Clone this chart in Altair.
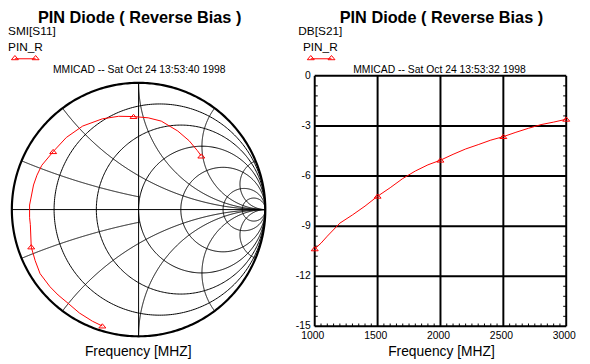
import altair as alt
import numpy as np
import pandas as pd

FONT = "Liberation Sans"

# ---------------- data ----------------
# S11 trace on the Smith chart (reflection coefficient), 1000 -> 3000 MHz
s11_re = [-0.286, -0.364, -0.467, -0.557, -0.635, -0.699, -0.777, -0.816, -0.847,
          -0.854, -0.860, -0.860, -0.849, -0.829, -0.802, -0.764, -0.674, -0.570,
          -0.441, -0.286, -0.157, -0.040, 0.076, 0.179, 0.309, 0.399, 0.464, 0.495]
s11_im = [-0.919, -0.881, -0.816, -0.739, -0.674, -0.609, -0.506, -0.403, -0.295,
          -0.119, -0.064, 0.036, 0.091, 0.194, 0.271, 0.349, 0.457, 0.569,
          0.659, 0.716, 0.736, 0.734, 0.724, 0.698, 0.620, 0.543, 0.465, 0.422]
s11_marker_idx = [0, 8, 16, 21, 27]          # 1000, 1500, 2000, 2500, 3000 MHz

# S21 in dB
s21_freq = [1000, 1050, 1100, 1200, 1300, 1400, 1500, 1600, 1700, 1800, 1900, 2000,
            2100, 2200, 2300, 2400, 2500, 2600, 2700, 2800, 2900, 3000]
s21_db = [-10.36, -10.02, -9.60, -8.82, -8.33, -7.80, -7.21, -6.70, -6.15, -5.70, -5.33,
          -5.05, -4.70, -4.38, -4.12, -3.85, -3.64, -3.38, -3.14, -2.92, -2.77, -2.60]
s21_marker_freq = [1000, 1500, 2000, 2500, 3000]

# axis ticks / labels of the rectangular plot
x_major = [1000, 1500, 2000, 2500, 3000]
x_labels = ["1000", "1500", "2000", "2500", "3000"]
y_major = [0, -3, -6, -9, -12, -15]
y_labels = ["0", "-3", "-6", "-9", "-12", "-15"]

# Smith chart grid values
smith_r = [0.2, 0.5, 1, 2, 5, 10]
smith_x = [0.2, 0.5, 1, 2, 5]

title_text = "PIN Diode ( Reverse Bias )"
left_meas = "SMI[S11]"
right_meas = "DB[S21]"
legend_name = "PIN_R"
left_stamp = "MMICAD -- Sat Oct 24 13:53:40 1998"
right_stamp = "MMICAD -- Sat Oct 24 13:53:32 1998"
x_title = "Frequency [MHZ]"

# ---------------- geometry (chart pixel space) ----------------
W, H = 582, 356
SM_CX, SM_CY, SM_R = 132.4, 201.9, 128.5
RX0, RX1, RY0, RY1 = 311, 566, 320.3, 66.3

gx = alt.Scale(domain=[-1, 1], range=[SM_CX - SM_R, SM_CX + SM_R], nice=False, zero=False)
gy = alt.Scale(domain=[-1, 1], range=[SM_CY + SM_R, SM_CY - SM_R], nice=False, zero=False)
fx = alt.Scale(domain=[1000, 3000], range=[RX0, RX1], nice=False, zero=False)
fy = alt.Scale(domain=[-15, 0], range=[RY0, RY1], nice=False, zero=False)

RED = "#ff0000"
TRI = "M-1,0.55L1,0.55L0,-0.65Z"
TRI_SIZE = 50

# ---------------- Smith chart ----------------
rows = []


def add_curve(cid, re_arr, im_arr):
    for k, (a, b) in enumerate(zip(re_arr, im_arr)):
        rows.append({"id": cid, "k": k, "re": float(a), "im": float(b)})


th = np.linspace(0, 2 * np.pi, 361)
for r in smith_r:
    c = r / (1 + r)
    rad = 1 / (1 + r)
    add_curve(f"r{r}", c + rad * np.cos(th), rad * np.sin(th))
for xv in smith_x:
    tmax = 0.5 if xv < 0.3 else 0.9995
    t = np.linspace(0, tmax, 400)
    rr = t / (1 - t)
    for s in (1, -1):
        z = rr + 1j * s * xv
        g = (z - 1) / (z + 1)
        add_curve(f"x{s * xv}", g.real, g.imag)
add_curve("h", [-1, 1], [0, 0])
add_curve("v", [0, 0], [-1, 1])
grid_df = pd.DataFrame(rows)
outer_df = pd.DataFrame({"k": range(len(th)), "re": np.cos(th), "im": np.sin(th)})

enc_s = dict(x=alt.X("re:Q", scale=gx, axis=None), y=alt.Y("im:Q", scale=gy, axis=None))

grid = alt.Chart(grid_df).mark_line(color="black", strokeWidth=1).encode(
    detail="id:N", order="k:Q", **enc_s)
outer = alt.Chart(outer_df).mark_line(color="black", strokeWidth=2.2).encode(order="k:Q", **enc_s)

s11_df = pd.DataFrame({"k": range(len(s11_re)), "re": s11_re, "im": s11_im})
s11_line = alt.Chart(s11_df).mark_line(color=RED, strokeWidth=1).encode(order="k:Q", **enc_s)
s11_mk = alt.Chart(s11_df.iloc[s11_marker_idx]).mark_point(
    shape=TRI, size=TRI_SIZE, color=RED, strokeWidth=1, filled=False, opacity=1).encode(**enc_s)

smith = alt.layer(grid, outer, s11_line, s11_mk)

# ---------------- rectangular plot ----------------
vert_df = pd.DataFrame({"f": x_major})
horiz_df = pd.DataFrame({"v": y_major})

vlines = alt.Chart(vert_df).mark_rule(color="black", strokeWidth=2).encode(
    x=alt.X("f:Q", scale=fx, axis=None),
    y=alt.Y(datum=-15, scale=fy, axis=None), y2=alt.Y2(datum=0))
hlines = alt.Chart(horiz_df).mark_rule(color="black", strokeWidth=2).encode(
    y=alt.Y("v:Q", scale=fy, axis=None),
    x=alt.X(datum=1000, scale=fx, axis=None), x2=alt.X2(datum=3000))

y_minor = [v for v in np.round(np.arange(-15, 0.01, 0.6), 2) if abs(v / 3 - round(v / 3)) > 1e-6]
x_minor = [v for v in range(1000, 3001, 50) if v % 500 != 0]
ym_df = pd.DataFrame({"v": y_minor})
xm_df = pd.DataFrame({"f": x_minor})

lt = alt.Chart(ym_df).mark_rule(color="black", strokeWidth=1).encode(
    y=alt.Y("v:Q", scale=fy, axis=None),
    x=alt.X(datum=1000, scale=fx, axis=None), x2=alt.X2(datum=1024))
rt = alt.Chart(ym_df).mark_rule(color="black", strokeWidth=1).encode(
    y=alt.Y("v:Q", scale=fy, axis=None),
    x=alt.X(datum=2976, scale=fx, axis=None), x2=alt.X2(datum=3000))
bt = alt.Chart(xm_df).mark_rule(color="black", strokeWidth=1).encode(
    x=alt.X("f:Q", scale=fx, axis=None),
    y=alt.Y(datum=-15, scale=fy, axis=None), y2=alt.Y2(datum=-14.83))

s21_df = pd.DataFrame({"f": s21_freq, "db": s21_db})
enc_r = dict(x=alt.X("f:Q", scale=fx, axis=None), y=alt.Y("db:Q", scale=fy, axis=None))
s21_line = alt.Chart(s21_df).mark_line(color=RED, strokeWidth=1).encode(**enc_r)
s21_mk = alt.Chart(s21_df[s21_df["f"].isin(s21_marker_freq)]).mark_point(
    shape=TRI, size=TRI_SIZE, color=RED, strokeWidth=1, filled=False, opacity=1).encode(**enc_r)

ylab = alt.Chart(pd.DataFrame({"v": y_major, "t": y_labels})).mark_text(
    align="right", baseline="middle", font=FONT, fontSize=10.5, color="black").encode(
    y=alt.Y("v:Q", scale=fy, axis=None), x=alt.value(307), text="t:N")
xlab = alt.Chart(pd.DataFrame({"f": x_major, "t": x_labels})).mark_text(
    align="center", baseline="alphabetic", font=FONT, fontSize=10.5, color="black", dx=-2).encode(
    x=alt.X("f:Q", scale=fx, axis=None), y=alt.value(333.5), text="t:N")

rect = alt.layer(vlines, hlines, lt, rt, bt, s21_line, s21_mk, ylab, xlab)


# ---------------- free texts ----------------
def label(txt, x, y, size, align="center", weight="normal"):
    return alt.Chart(pd.DataFrame({"t": [txt]})).mark_text(
        align=align, baseline="alphabetic", fontSize=size, fontWeight=weight,
        font=FONT, color="black").encode(x=alt.value(x), y=alt.value(y), text="t:N")


def legend_sample(x0, x1, y):
    d = pd.DataFrame({"t": [0]})
    line = alt.Chart(d).mark_rule(color=RED, strokeWidth=1).encode(
        x=alt.value(x0), x2=alt.value(x1), y=alt.value(y))
    p1 = alt.Chart(d).mark_point(shape=TRI, size=TRI_SIZE, color=RED, filled=False,
                                 strokeWidth=1, opacity=1).encode(x=alt.value(x0), y=alt.value(y - 1))
    p2 = alt.Chart(d).mark_point(shape=TRI, size=TRI_SIZE, color=RED, filled=False,
                                 strokeWidth=1, opacity=1).encode(x=alt.value(x1), y=alt.value(y - 1))
    return [line, p1, p2]


texts = alt.layer(
    label(title_text, 133.5, 12.5, 16.5, weight="bold"),
    label(title_text, 439.5, 12.5, 16.5, weight="bold"),
    label(left_meas, 0, 25, 12, align="left"),
    label(right_meas, 339, 25, 12, align="right"),
    label(legend_name, 0, 41, 12, align="left"),
    label(legend_name, 299, 41, 12, align="left"),
    label(left_stamp, 133, 63.5, 10.5),
    label(right_stamp, 437.5, 63.5, 10.5),
    label(x_title, 132, 350, 14),
    label(x_title, 439.5, 350, 14),
    *legend_sample(7, 28, 49),
    *legend_sample(307, 328, 49),
)

chart = alt.layer(smith, rect, texts).resolve_scale(
    x="independent", y="independent"
).properties(
    width=W, height=H, padding=0, autosize=alt.AutoSizeParams(type="none"),
    background="white"
).configure_view(stroke=None)

chart.save("out.html", embed_options={"renderer": "svg", "actions": False})
